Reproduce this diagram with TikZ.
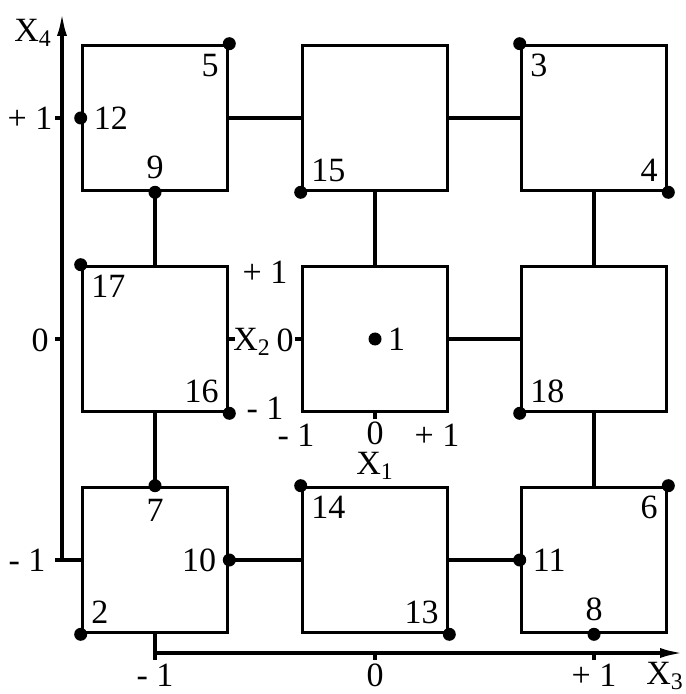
\documentclass[tikz,border=0pt]{standalone}
\usepackage{fontspec}
\setmainfont{Liberation Serif}
\usetikzlibrary{arrows.meta}

\begin{document}
\begin{tikzpicture}[x=0.5pt, y=-0.5pt, line width=1.8pt,
  every node/.style={font=\fontsize{17}{20}\selectfont},
  box/.style={draw, minimum size=72.5pt, inner sep=0pt},
  dot/.style={circle, fill, inner sep=0pt, minimum size=6.5pt},
  num/.style={inner sep=1.5pt},
  axis/.style={-{Latex[length=12pt,width=5pt]}}]
\useasboundingbox (0,0) rectangle (685,694);
% the nine cells
\node[box] (b11) at (155,118) {};
\node[box] (b12) at (375,118) {};
\node[box] (b13) at (594,118) {};
\node[box] (b21) at (155,339) {};
\node[box] (b22) at (375,339) {};
\node[box] (b23) at (594,339) {};
\node[box] (b31) at (155,560) {};
\node[box] (b32) at (375,560) {};
\node[box] (b33) at (594,560) {};
% links between cells
\draw (b11.east) -- (b12.west);
\draw (b12.east) -- (b13.west);
\draw (b11.south) -- (b21.north);
\draw (b12.south) -- (b22.north);
\draw (b13.south) -- (b23.north);
\draw (b22.east) -- (b23.west);
\draw (b21.south) -- (b31.north);
\draw (b23.south) -- (b33.north);
\draw (b31.east) -- (b32.west);
\draw (b32.east) -- (b33.west);
% outer axes
\coordinate (x4foot) at (62,560);
\coordinate (x4tip) at (62,12);
\coordinate (x3foot) at (155,653);
\coordinate (x3tip) at (684,653);
\draw (b31.west) -- (55,560);
\draw[axis] (x4foot) -- (x4tip);
\foreach \y in {118,339} \draw (55,\y) -- (62,\y);
\draw (b31.south) -- (155,660);
\draw[axis] (x3foot) -- (x3tip);
\foreach \x in {375,594} \draw (\x,653) -- (\x,660);
\node (lx4) at (33,33) {X\textsubscript{4}};
\node (ly1) at (30,118) {+ 1};
\node (ly0) at (40,340) {0};
\node (lym) at (27,560) {- 1};
\node (lxm) at (155,675) {- 1};
\node (lx0) at (375,675) {0};
\node (lx1) at (594,675) {+ 1};
\node (lx3) at (665,676) {X\textsubscript{3}};
% axes of the middle cell
\draw (b22.south) -- ++(0,6);
\draw (b22.west) -- ++(-6,0);
\draw (b21.east) -- ++(6,0);
\node (cy1) at (265,272) {+ 1};
\node (cym) at (265,408) {- 1};
\node (cxm) at (296,435) {- 1};
\node[inner sep=0pt] (cx0) at (375,433) {0};
\node[inner sep=0pt] (cx) at (375,466) {X\textsubscript{1}};
\node (cx1) at (437,435) {+ 1};
\node (cy) at (252,342) {X\textsubscript{2}};
\node (cy0) at (285,340) {0};
% numbered points
\node[dot, label={[num]right:1}] (p1) at (b22.center) {};
\node[dot, label={[num]above right:2}] (p2) at (b31.south west) {};
\node[dot, label={[num]below right:3}] (p3) at (b13.north west) {};
\node[dot, label={[num]above left:4}] (p4) at (b13.south east) {};
\node[dot, label={[num]below left:5}] (p5) at (b11.north east) {};
\node[dot, label={[num]below left:6}] (p6) at (b33.north east) {};
\node[dot, label={[num]below:7}] (p7) at (b31.north) {};
\node[dot, label={[num]above:8}] (p8) at (b33.south) {};
\node[dot, label={[num]above:9}] (p9) at (b11.south) {};
\node[dot, label={[num]left:10}] (p10) at (b31.east) {};
\node[dot, label={[num]right:11}] (p11) at (b33.west) {};
\node[dot, label={[num]right:12}] (p12) at (b11.west) {};
\node[dot, label={[num]above left:13}] (p13) at (b32.south east) {};
\node[dot, label={[num]below right:14}] (p14) at (b32.north west) {};
\node[dot, label={[num]above right:15}] (p15) at (b12.south west) {};
\node[dot, label={[num]above left:16}] (p16) at (b21.south east) {};
\node[dot, label={[num]below right:17}] (p17) at (b21.north west) {};
\node[dot, label={[num]above right:18}] (p18) at (b23.south west) {};
\end{tikzpicture}
\end{document}
